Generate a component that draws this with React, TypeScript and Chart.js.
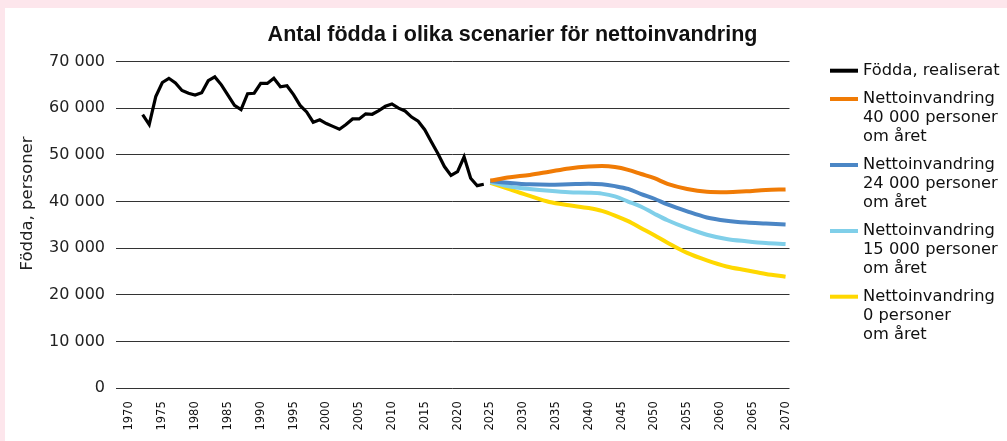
import React, { useEffect, useRef } from 'react';
import { Chart, registerables } from 'chart.js';

Chart.register(...registerables);

const TITLE = 'Antal födda i olika scenarier för nettoinvandring';
const Y_TITLE = 'Födda, personer';

const realizedYears = [
  1972, 1973, 1974, 1975, 1976, 1977, 1978, 1979, 1980, 1981, 1982, 1983, 1984, 1985,
  1986, 1987, 1988, 1989, 1990, 1991, 1992, 1993, 1994, 1995, 1996, 1997, 1998, 1999,
  2000, 2001, 2002, 2003, 2004, 2005, 2006, 2007, 2008, 2009, 2010, 2011, 2012, 2013,
  2014, 2015, 2016, 2017, 2018, 2019, 2020, 2021, 2022, 2023, 2024,
];
const realizedBirths = [
  58600, 56500, 62500, 65500, 66400, 65400, 63800, 63200, 62800, 63300, 65900, 66700, 65000, 62800,
  60600, 59700, 63100, 63200, 65300, 65300, 66400, 64600, 64800, 62900, 60600, 59200, 57000, 57500,
  56700, 56100, 55500, 56500, 57700, 57700, 58800, 58700, 59500, 60400, 60900, 60000, 59400, 58100,
  57200, 55400, 52800, 50300, 47500, 45600, 46400, 49600, 45000, 43400, 43700,
];

const projectionYears = [
  2025, 2028, 2031, 2034, 2037, 2040, 2042, 2044, 2046, 2048, 2050, 2052, 2055, 2058, 2061, 2064, 2067, 2070,
];
const proj40000 = [
  44500, 45200, 45700, 46400, 47100, 47500, 47600, 47400, 46800, 45900, 45000, 43800, 42700, 42100, 42000, 42200, 42500, 42600,
];
const proj24000 = [
  44400, 44000, 43700, 43600, 43700, 43800, 43700, 43300, 42700, 41600, 40600, 39400, 37900, 36600, 35900, 35500, 35300, 35100,
];
const proj15000 = [
  44200, 43200, 42700, 42300, 42000, 41900, 41700, 41100, 40000, 38900, 37400, 36000, 34300, 32900, 32000, 31500, 31100, 30900,
];
const proj0 = [
  44000, 42600, 41200, 39900, 39200, 38600, 38000, 37000, 35800, 34300, 32800, 31200, 29000, 27400, 26100, 25300, 24500, 23900,
];

const xTickYears = [
  1970, 1975, 1980, 1985, 1990, 1995, 2000, 2005, 2010, 2015, 2020, 2025, 2030, 2035, 2040, 2045, 2050, 2055, 2060, 2065, 2070,
];
const yTickValues = [0, 10000, 20000, 30000, 40000, 50000, 60000, 70000];

const seriesLabels: string[][] = [
  ['Födda, realiserat'],
  ['Nettoinvandring', '40 000 personer', 'om året'],
  ['Nettoinvandring', '24 000 personer', 'om året'],
  ['Nettoinvandring', '15 000 personer', 'om året'],
  ['Nettoinvandring', '0 personer', 'om året'],
];
const seriesColors = ['#000000', '#f07b05', '#4b86c5', '#80cfe9', '#ffd800'];

const W = 1002;
const H = 433;
const FONT = '"DejaVu Sans", sans-serif';

function fmt(v: number): string {
  const s = String(Math.round(v));
  return s.replace(/\B(?=(\d{3})+(?!\d))/g, ' ');
}

const decorPlugin = {
  id: 'decor',
  afterDraw(chart: any) {
    const ctx = chart.ctx as CanvasRenderingContext2D;
    ctx.save();
    // Title
    ctx.fillStyle = '#111';
    ctx.font = 'bold 21.5px "Liberation Sans", Arial, sans-serif';
    ctx.textAlign = 'center';
    ctx.textBaseline = 'middle';
    ctx.fillText(TITLE, 507.5, 27);
    // Y title
    ctx.save();
    ctx.translate(22.5, 195.5);
    ctx.rotate(-Math.PI / 2);
    ctx.font = `16.5px ${FONT}`;
    ctx.fillStyle = '#222';
    ctx.fillText(Y_TITLE, 0, 0);
    ctx.restore();
    // Legend
    const groupY = [62.7, 91, 157, 223, 288.7];
    ctx.textAlign = 'left';
    ctx.font = `16.3px ${FONT}`;
    seriesLabels.forEach((lines, i) => {
      const y0 = groupY[i];
      ctx.strokeStyle = seriesColors[i];
      ctx.lineWidth = 4;
      ctx.lineCap = 'butt';
      ctx.beginPath();
      ctx.moveTo(825, y0);
      ctx.lineTo(853, y0);
      ctx.stroke();
      ctx.fillStyle = '#111';
      lines.forEach((t, j) => {
        ctx.fillText(t, 858, y0 + j * 19);
      });
    });
    ctx.restore();
  },
};

export default function App() {
  const ref = useRef<HTMLCanvasElement | null>(null);

  useEffect(() => {
    if (!ref.current) return;
    const mk = (xs: number[], ys: number[]) => xs.map((x, i) => ({ x, y: ys[i] }));
    const chart = new Chart(ref.current, {
      type: 'line',
      data: {
        datasets: [
          {
            label: seriesLabels[0].join(' '),
            data: mk(realizedYears, realizedBirths),
            borderColor: seriesColors[0],
            borderWidth: 3.2,
            pointRadius: 0,
            tension: 0,
          },
          {
            label: seriesLabels[1].join(' '),
            data: mk(projectionYears, proj40000),
            borderColor: seriesColors[1],
            borderWidth: 4,
            pointRadius: 0,
            cubicInterpolationMode: 'monotone',
          },
          {
            label: seriesLabels[2].join(' '),
            data: mk(projectionYears, proj24000),
            borderColor: seriesColors[2],
            borderWidth: 4,
            pointRadius: 0,
            cubicInterpolationMode: 'monotone',
          },
          {
            label: seriesLabels[3].join(' '),
            data: mk(projectionYears, proj15000),
            borderColor: seriesColors[3],
            borderWidth: 4,
            pointRadius: 0,
            cubicInterpolationMode: 'monotone',
          },
          {
            label: seriesLabels[4].join(' '),
            data: mk(projectionYears, proj0),
            borderColor: seriesColors[4],
            borderWidth: 4,
            pointRadius: 0,
            cubicInterpolationMode: 'monotone',
          },
        ],
      },
      options: {
        responsive: false,
        animation: false,
        devicePixelRatio: 1,
        layout: { padding: { left: 0, right: 217.5, top: 53.5, bottom: 0 } },
        plugins: {
          legend: { display: false },
          title: { display: false },
          tooltip: { enabled: false },
        },
        scales: {
          x: {
            type: 'linear',
            min: 1967.94,
            max: 2070.6,
            afterBuildTicks: (s: any) => {
              s.ticks = xTickYears.map((v) => ({ value: v }));
            },
            afterFit: (s: any) => {
              s.height = 52.7;
            },
            grid: { display: false },
            border: { display: false },
            ticks: {
              autoSkip: false,
              minRotation: 90,
              maxRotation: 90,
              padding: 5,
              color: '#111',
              font: { family: FONT, size: 11.5 },
              callback: (v: any) => String(v),
            },
          },
          y: {
            type: 'linear',
            min: 0,
            max: 70000,
            afterBuildTicks: (s: any) => {
              s.ticks = yTickValues.map((v) => ({ value: v }));
            },
            afterFit: (s: any) => {
              s.width = 111;
            },
            grid: { color: '#333', lineWidth: 1, drawTicks: false },
            border: { display: false },
            ticks: {
              padding: 11,
              color: '#222',
              font: { family: FONT, size: 16 },
              callback: (v: any) => fmt(Number(v)),
            },
          },
        },
      },
      plugins: [decorPlugin],
    });
    return () => chart.destroy();
  }, []);

  return (
    <div style={{ position: 'fixed', left: 0, top: 0, width: 1007, height: 441, background: '#fde6ec', overflow: 'hidden' }}>
      <div style={{ position: 'absolute', left: 5, top: 8, width: W, height: H, background: '#ffffff' }}>
        <canvas ref={ref} width={W} height={H} style={{ display: 'block', width: W, height: H }} />
      </div>
    </div>
  );
}
